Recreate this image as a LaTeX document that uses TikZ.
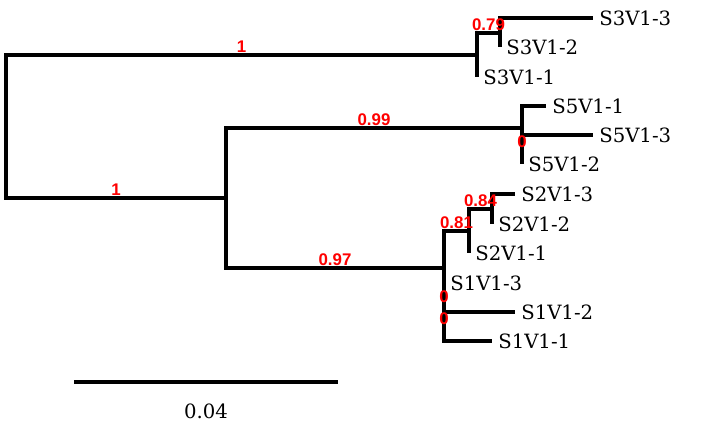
\documentclass[tikz,border=0pt]{standalone}
\usepackage{fontspec}
\setmainfont{DejaVu Serif}
\newfontfamily\suppfont{Liberation Sans}
\usepackage{tikz}
\usetikzlibrary{positioning}
\definecolor{suppc}{HTML}{FF0000}
\tikzset{
  branch/.style={draw=black, line width=2.4pt},
  taxon/.style={anchor=west, inner sep=0pt, xshift=0.150cm, font=\fontsize{14}{16}\selectfont},
  supp/.style={above=0.050cm, inner sep=0pt, text=suppc, font=\suppfont\bfseries\fontsize{12}{14}\selectfont},
  scalelab/.style={inner sep=0pt, font=\fontsize{14}{16}\selectfont},
}

\begin{document}
\begin{tikzpicture}
\useasboundingbox (0,0) rectangle (17.725,-10.800);
% inner nodes
\coordinate (root) at (0.150,-3.163);
\coordinate (s3) at (11.925,-1.375);
\coordinate (s3b) at (12.500,-0.825);
\coordinate (rest) at (5.650,-4.950);
\coordinate (s5) at (13.050,-3.200);
\coordinate (s5b) at (13.050,-3.738);
\coordinate (s12) at (11.100,-6.700);
\coordinate (s2) at (11.725,-5.775);
\coordinate (s2b) at (12.300,-5.225);
\coordinate (s1) at (11.100,-7.619);
\coordinate (s1b) at (11.100,-8.163);
% leaves
\coordinate (s3v3) at (14.825,-0.450);
\coordinate (s3v2) at (12.500,-1.175);
\coordinate (s3v1) at (11.925,-1.925);
\coordinate (s5v1) at (13.650,-2.650);
\coordinate (s5v3) at (14.825,-3.375);
\coordinate (s5v2) at (13.050,-4.100);
\coordinate (s2v3) at (12.875,-4.850);
\coordinate (s2v2) at (12.300,-5.600);
\coordinate (s2v1) at (11.725,-6.325);
\coordinate (s1v3) at (11.100,-7.075);
\coordinate (s1v2) at (12.875,-7.800);
\coordinate (s1v1) at (12.300,-8.525);
% branches
\draw[branch] (root) |- (s3);
\draw[branch] (root) |- (rest);
\draw[branch] (s3) |- (s3b);
\draw[branch] (s3) |- (s3v1);
\draw[branch] (s3b) |- (s3v3);
\draw[branch] (s3b) |- (s3v2);
\draw[branch] (rest) |- (s5);
\draw[branch] (rest) |- (s12);
\draw[branch] (s5) |- (s5v1);
\draw[branch] (s5) |- (s5b);
\draw[branch] (s5b) |- (s5v3);
\draw[branch] (s5b) |- (s5v2);
\draw[branch] (s12) |- (s2);
\draw[branch] (s12) |- (s1);
\draw[branch] (s2) |- (s2b);
\draw[branch] (s2) |- (s2v1);
\draw[branch] (s2b) |- (s2v3);
\draw[branch] (s2b) |- (s2v2);
\draw[branch] (s1) |- (s1v3);
\draw[branch] (s1) |- (s1b);
\draw[branch] (s1b) |- (s1v2);
\draw[branch] (s1b) |- (s1v1);
% taxa
\node[taxon] (t33) at (s3v3) {S3V1-3};
\node[taxon] (t32) at (s3v2) {S3V1-2};
\node[taxon] (t31) at (s3v1) {S3V1-1};
\node[taxon] (t51) at (s5v1) {S5V1-1};
\node[taxon] (t53) at (s5v3) {S5V1-3};
\node[taxon] (t52) at (s5v2) {S5V1-2};
\node[taxon] (t23) at (s2v3) {S2V1-3};
\node[taxon] (t22) at (s2v2) {S2V1-2};
\node[taxon] (t21) at (s2v1) {S2V1-1};
\node[taxon] (t13) at (s1v3) {S1V1-3};
\node[taxon] (t12) at (s1v2) {S1V1-2};
\node[taxon] (t11) at (s1v1) {S1V1-1};
% support values
\node[supp] (b3) at (6.038,-1.375) {1};
\node[supp] (brest) at (2.900,-4.950) {1};
\node[supp] (b3b) at (12.213,-0.825) {0.79};
\node[supp] (b5) at (9.350,-3.200) {0.99};
\node[supp] (b5b) at (13.050,-3.738) {0};
\node[supp] (b12) at (8.375,-6.700) {0.97};
\node[supp] (b2) at (11.413,-5.775) {0.81};
\node[supp] (b2b) at (12.013,-5.225) {0.84};
\node[supp] (b1) at (11.100,-7.619) {0};
\node[supp] (b1b) at (11.100,-8.163) {0};
% scale bar
\coordinate (barl) at (1.850,-9.550);
\coordinate (barr) at (8.450,-9.550);
\draw[branch] (barl) -- (barr);
\node[scalelab] (barlab) at (5.150,-10.288) {0.04};
\end{tikzpicture}
\end{document}
